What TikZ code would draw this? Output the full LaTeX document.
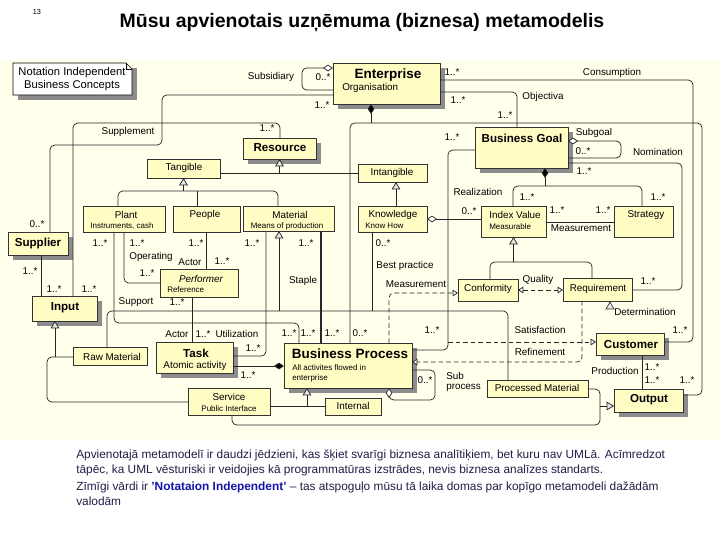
\documentclass[tikz,border=0pt]{standalone}
\usepackage{fontspec}
\setmainfont{Liberation Sans}
\usetikzlibrary{arrows.meta,fit,shadows}
\definecolor{bgc}{RGB}{255,255,236}
\definecolor{boxc}{RGB}{255,252,196}
\definecolor{txtc}{RGB}{30,30,70}
\definecolor{hlc}{RGB}{20,20,170}
\newcommand\lblfont{\fontsize{7.4}{8.4}\selectfont}
\newcommand\subfont{\fontsize{6}{7}\selectfont}
\newcommand\bfnt{\fontsize{8.7}{10}\selectfont\bfseries}
\newcommand\bigbfnt{\fontsize{10.1}{12}\selectfont\bfseries}
\newcommand\bodyfnt{\fontsize{8.9}{10.5}\selectfont}
\newcommand{\umlcls}[6][]{\node[cls,#1,fit={(#3,#4) (#5,#6)}] (#2) {};}
\begin{document}
\begin{tikzpicture}[x=0.75pt,y=-0.75pt,
  cls/.style={draw=black!80, line width=0.5pt, fill=boxc, inner sep=0pt, outer sep=0pt},
  shd/.style={drop shadow={shadow xshift=3.75pt, shadow yshift=-3.75pt, fill=black!45, opacity=1}},
  lbl/.style={font=\lblfont, inner sep=0pt},
  sub/.style={font=\subfont, inner sep=0pt},
  ttl/.style={font=\bfnt, inner sep=0pt},
  con/.style={draw=black!85, line width=0.55pt, rounded corners=3.5pt},
  gen/.style={-{Triangle[fill=gray!20, length=5.5pt, width=6.5pt]}},
  dep/.style={dash pattern=on 3.5pt off 2.2pt, -{Triangle[fill=white, length=4pt, width=5pt]}},
  qual/.style={dash pattern=on 3.5pt off 2.2pt, {Triangle[fill=white, length=4pt, width=5pt]}-{Triangle[fill=white, length=4pt, width=5pt]}},
  comp/.style={{Diamond[fill=black, length=7.5pt, width=5pt]}-},
  compend/.style={-{Diamond[fill=black, length=7.5pt, width=5pt]}},
  aggr/.style={{Diamond[fill=white, length=7.5pt, width=5pt]}-},
  aggrend/.style={-{Diamond[fill=white, length=7.5pt, width=5pt]}},
]
\useasboundingbox (0,0) rectangle (720,540);
\fill[bgc] (0,60) rectangle (720,440);

% title
\node[inner sep=0, font=\fontsize{5.5}{6}\selectfont] (pnum) at (37,12) {13};
\node[inner sep=0, font=\fontsize{14.6}{17}\selectfont\bfseries] (title) at (362,23) {Mūsu apvienotais uzņēmuma (biznesa) metamodelis};

% note
\fill[black!45] (18,68) rectangle (137,100);
\draw[fill=white, line width=0.5pt] (13,63) -- (126,63) -- (132,69) -- (132,95) -- (13,95) -- cycle;
\draw[line width=0.4pt] (126,63) -- (126,69) -- (132,69);
\node[font=\fontsize{8.4}{9.8}\selectfont, align=center, inner sep=0] (note) at (72,79) {Notation Independent\\Business Concepts};

% classes
\umlcls[shd]{ent}{333}{63}{440}{104}
\umlcls[shd]{res}{243}{138}{316}{159}
\umlcls{tang}{147}{159}{220}{178}
\umlcls{intang}{358}{164}{427}{182}
\umlcls[shd]{bgoal}{475}{127}{568}{168}
\umlcls{plant}{83}{206}{165}{232}
\umlcls{people}{173}{206}{240}{232}
\umlcls{mat}{243}{206}{334}{231}
\umlcls{know}{358}{206}{427}{232}
\umlcls{iv}{481}{206}{546}{237}
\umlcls{strat}{614}{206}{673}{237}
\umlcls[shd]{sup}{8}{232}{68}{255}
\umlcls{perf}{160}{269}{238}{297}
\umlcls[shd]{inp}{32}{296}{97}{321}
\umlcls{conf}{458}{279}{518}{301}
\umlcls{req}{563}{278}{632}{301}
\umlcls{raw}{73}{347}{147}{365}
\umlcls[shd]{task}{156}{342}{233}{373}
\umlcls[shd]{bp}{284}{343}{412}{388}
\umlcls[shd]{cust}{596}{333}{664}{355}
\umlcls{serv}{188}{388}{270}{415}
\umlcls{intl}{325}{398}{381}{415}
\umlcls{proc}{487}{380}{588}{397}
\umlcls[shd]{outp}{614}{389}{683}{412}

% class texts
\node[font=\bigbfnt, inner sep=0] (entT) at (388,75) {Enterprise};
\node[lbl, anchor=west] (entS) at (342,88) {Organisation};
\node[ttl] (resT) at (280,148) {Resource};
\node[lbl] (tangT) at (184,168) {Tangible};
\node[lbl] (intangT) at (392,173) {Intangible};
\node[ttl] (bgoalT) at (522,138) {Business Goal};
\node[lbl] (plantT) at (126,215) {Plant};
\node[sub] (plantS) at (122,226) {Instruments, cash};
\node[lbl] (peopleT) at (205,215) {People};
\node[lbl] (matT) at (290,215) {Material};
\node[sub] (matS) at (287,226) {Means of production};
\node[lbl] (knowT) at (393,215) {Knowledge};
\node[sub, anchor=west] (knowS) at (365,226) {Know How};
\node[lbl] (ivT) at (515,215) {Index Value};
\node[sub, anchor=west] (ivS) at (489,227) {Measurable};
\node[lbl] (stratT) at (646,215) {Strategy};
\node[ttl] (supT) at (38,243) {Supplier};
\node[lbl, font=\lblfont\itshape] (perfT) at (201,279) {Performer};
\node[sub, anchor=west] (perfS) at (167,290) {Reference};
\node[ttl] (inpT) at (65,308) {Input};
\node[lbl] (confT) at (488,289) {Conformity};
\node[lbl] (reqT) at (598,289) {Requirement};
\node[lbl] (rawT) at (112,357) {Raw Material};
\node[ttl] (taskT) at (196,353) {Task};
\node[lbl] (taskS) at (195,366) {Atomic activity};
\node[font=\bigbfnt, inner sep=0] (bpT) at (350,354) {Business Process};
\node[sub, anchor=west] (bpS1) at (292,368) {All activites flowed in};
\node[sub, anchor=west] (bpS2) at (292,378) {enterprise};
\node[ttl] (custT) at (631,344) {Customer};
\node[lbl] (servT) at (229,397) {Service};
\node[sub] (servS) at (229,409) {Public Interface};
\node[lbl] (intlT) at (353,406) {Internal};
\node[lbl] (procT) at (537,388) {Processed Material};
\node[ttl] (outpT) at (649,400) {Output};

% connectors
\draw[con, aggrend] (ent.west |- 0,90) -- (302,90) -- (302,68) -- (ent.west |- 0,68);
\draw[con] (ent.west |- 0,95) -- (162,95) -- (162,145) -- (50,145) -- (sup.north -| 50,0);
\draw[con] (inp.north -| 73,0) -- (73,123) -- (280,123) -- (res.north -| 280,0);
\coordinate (entj) at (371,123);
\draw[con, comp] (ent.south -| entj) -- (entj);
\draw[con] (bp.north -| 350,0) -- (350,123) -- (702,123) -- (702,395) -- (outp.east |- 0,395);
\draw[con] (ent.east |- 0,92) -- (517,92) -- (bgoal.north -| 517,0);
\draw[con] (ent.east |- 0,80) -- (693,80) -- (693,342) -- (cust.east |- 0,342);
\draw[con, aggrend] (bgoal.east |- 0,158) -- (621,158) -- (621,141) -- (bgoal.east |- 0,141);
\draw[con] (bgoal.east |- 0,163) -- (682,163) -- (682,290) -- (req.east |- 0,290);
\coordinate (bgj) at (545,186);
\draw[con, comp] (bgoal.south -| bgj) -- (bgj);
\draw[con] (iv.north -| 513,0) -- (513,186) -- (642,186) -- (strat.north -| 642,0);
\draw[con] (bgoal.west |- 0,150) -- (448,150) -- (448,350) -- (bp.east |- 0,350);
\draw[con] (tang.east |- 0,173) -- (intang.west |- 0,173);
\draw[con, gen] (res.south |- 0,173) -- (res.south);
\draw[con] (plant.north -| 118,0) -- (118,191) -- (278,191) -- (mat.north -| 278,0);
\draw[con] (people.north -| 197,0) -- (197,191);
\draw[con, gen] (tang.south |- 0,191) -- (tang.south);
\draw[con, gen] (know.north -| 396,0) -- (intang.south -| 396,0);
\draw[con, aggr] (know.east |- 0,219) -- (iv.west |- 0,219);
\draw[con] (iv.east |- 0,222) -- (strat.west |- 0,222);
\draw[con] (conf.north -| 490,0) -- (490,262) -- (592,262) -- (req.north -| 592,0);
\draw[con, gen] (iv.south |- 0,262) -- (iv.south);
\draw[con, qual] (conf.east |- 0,290) -- (req.west |- 0,290);
\draw[draw=black!80, fill=gray!20, line width=0.5pt] (606,309) -- (614,309) -- (610,302) -- cycle;
\draw[con] (plant.south -| 124,0) -- (124,283) -- (perf.west |- 0,283);
\draw[con] (people.south -| 206,0) -- (perf.north -| 206,0);
\draw[con] (perf.south -| 192,0) -- (task.north -| 192,0);
\draw[con] (plant.south -| 114,0) -- (114,323) -- (299,323) -- (bp.north -| 299,0);
\draw[con] (mat.south -| 266,0) -- (266,356) -- (task.east |- 0,356);
\draw[con] (raw.north -| 107,0) -- (107,311) -- (508,311) -- (proc.north -| 508,0);
\coordinate (matj) at (279,311);
\draw[con, gen] (matj) -- (mat.south -| matj);
\draw[con, line width=1.2pt] (mat.south -| 321,0) -- (bp.north -| 321,0);
\coordinate (knowj) at (372,311);
\draw[con] (know.south -| knowj) -- (knowj);
\draw[con, dep] (bp.north -| 389,0) -- (389,293) -- (conf.west |- 0,293);
\draw[con, dep] (req.south -| 582,0) -- (582,362) -- (bp.east |- 0,362);
\coordinate (satj) at (448,342);
\draw[con, dep] (satj) -- (cust.west |- satj);
\draw[con] (cust.south -| 642,0) -- (outp.north -| 642,0);
\draw[con, compend] (task.east |- 0,366) -- (bp.west |- 0,366);
\draw[con, aggr] (bp.south -| 389,0) -- (389,400) -- (435,400) -- (435,370) -- (bp.east |- 0,370);
\draw[con] (serv.east |- 0,406) -- (intl.west |- 0,406);
\coordinate (bpj) at (307,406);
\draw[con, gen] (bpj) -- (bp.south -| bpj);
\draw[con] (serv.west |- 0,402) -- (47,402) -- (47,357) -- (raw.west |- 0,357);
\coordinate (inj) at (55,357);
\draw[con, gen] (inj) -- (inp.south -| inj);
\draw[con] (proc.east |- 0,389) -- (600,389) -- (600,425) -- (232,425) -- (serv.south -| 232,0);
\coordinate (outj) at (600,406);
\draw[con, gen] (outj) -- (outp.west |- outj);
\draw[con] (sup.south -| 41,0) -- (inp.north -| 41,0);

% labels
\node[lbl] (a1) at (271,77) {Subsidiary};
\node[lbl] (a2) at (323,77) {0..*};
\node[lbl] (a3) at (452,72) {1..*};
\node[lbl] (a4) at (458,100) {1..*};
\node[lbl] (a5) at (322,105) {1..*};
\node[lbl] (a6) at (612,73) {Consumption};
\node[lbl] (a7) at (543,97) {Objectiva};
\node[lbl] (a8) at (505,115) {1..*};
\node[lbl] (a9) at (594,133) {Subgoal};
\node[lbl] (a10) at (583,151) {0..*};
\node[lbl] (a11) at (658,152) {Nomination};
\node[lbl] (a12) at (584,171) {1..*};
\node[lbl] (a13) at (128,132) {Supplement};
\node[lbl] (a14) at (267,128) {1..*};
\node[lbl] (a15) at (452,137) {1..*};
\node[lbl] (a16) at (478,192) {Realization};
\node[lbl] (a17) at (469,211) {0..*};
\node[lbl] (a18) at (527,197) {1..*};
\node[lbl] (a19) at (658,197) {1..*};
\node[lbl] (a20) at (557,210) {1..*};
\node[lbl] (a21) at (603,210) {1..*};
\node[lbl] (a22) at (581,228) {Measurement};
\node[lbl] (a23) at (37,224) {0..*};
\node[lbl] (a24) at (100,243) {1..*};
\node[lbl] (a25) at (137,243) {1..*};
\node[lbl] (a26) at (196,243) {1..*};
\node[lbl] (a27) at (252,243) {1..*};
\node[lbl] (a28) at (306,243) {1..*};
\node[lbl] (a29) at (383,243) {0..*};
\node[lbl] (a30) at (151,257) {Operating};
\node[lbl] (a31) at (190,262) {Actor};
\node[lbl] (a32) at (222,261) {1..*};
\node[lbl] (a33) at (147,273) {1..*};
\node[lbl] (a34) at (30,271) {1..*};
\node[lbl] (a35) at (54,289) {1..*};
\node[lbl] (a36) at (89,289) {1..*};
\node[lbl] (a37) at (136,302) {Support};
\node[lbl] (a38) at (177,302) {1..*};
\node[lbl] (a39) at (405,266) {Best practice};
\node[lbl] (a40) at (303,281) {Staple};
\node[lbl] (a41) at (416,284) {Measurement};
\node[lbl] (a42) at (538,280) {Quality};
\node[lbl] (a43) at (648,281) {1..*};
\node[lbl] (a44) at (645,312) {Determination};
\node[lbl] (a45) at (177,334) {Actor};
\node[lbl] (a46) at (203,334) {1..*};
\node[lbl] (a47) at (237,334) {Utilization};
\node[lbl] (a48) at (289,333) {1..*};
\node[lbl] (a49) at (308,333) {1..*};
\node[lbl] (a50) at (332,333) {1..*};
\node[lbl] (a51) at (360,333) {0..*};
\node[lbl] (a52) at (432,330) {1..*};
\node[lbl] (a53) at (253,348) {1..*};
\node[lbl] (a54) at (248,375) {1..*};
\node[lbl] (a55) at (425,380) {0..*};
\node[lbl, anchor=west] (a56) at (446,376) {Sub};
\node[lbl, anchor=west] (a57) at (446,388) {process};
\node[lbl] (a58) at (540,330) {Satisfaction};
\node[lbl] (a59) at (540,352) {Refinement};
\node[lbl] (a60) at (680,330) {1..*};
\node[lbl] (a61) at (615,371) {Production};
\node[lbl] (a62) at (652,367) {1..*};
\node[lbl] (a63) at (652,380) {1..*};
\node[lbl] (a64) at (687,380) {1..*};

% bottom text
\node[anchor=west, font=\bodyfnt, text=txtc, inner sep=0] (p1) at (76,455) {Apvienotajā metamodelī ir daudzi jēdzieni, kas šķiet svarīgi biznesa analītiķiem, bet kuru nav UMLā. Acīmredzot};
\node[anchor=west, font=\bodyfnt, text=txtc, inner sep=0] (p2) at (76,470) {tāpēc, ka UML vēsturiski ir veidojies kā programmatūras izstrādes, nevis biznesa analīzes standarts.};
\node[anchor=west, font=\bodyfnt, text=txtc, inner sep=0] (p3) at (76,487) {Zīmīgi vārdi ir \textbf{\textcolor{hlc}{'Notataion Independent'}} – tas atspoguļo mūsu tā laika domas par kopīgo metamodeli dažādām};
\node[anchor=west, font=\bodyfnt, text=txtc, inner sep=0] (p4) at (76,501) {valodām};
\end{tikzpicture}
\end{document}
